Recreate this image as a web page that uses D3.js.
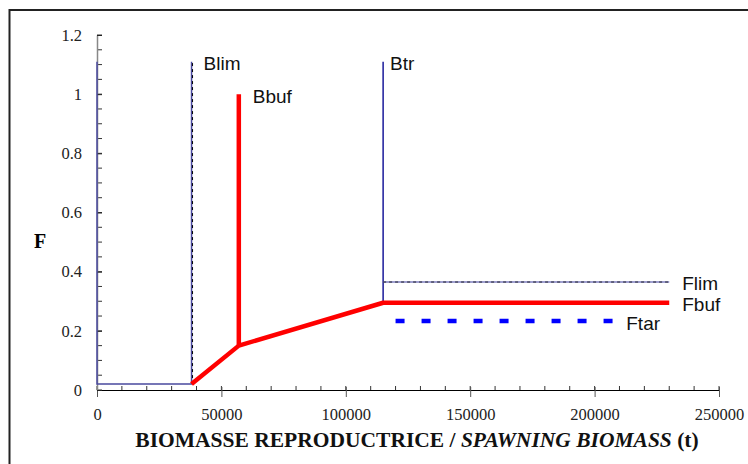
<!DOCTYPE html>
<html>
<head>
<meta charset="utf-8">
<script src="https://cdn.jsdelivr.net/npm/d3@7"></script>
<style>
  body { margin: 0; background: #fff; }
  svg { display: block; }
  .tick text { font-family: "Liberation Serif", "Times New Roman", serif; font-size: 16.5px; fill: #222; }
  .lbl { font-family: "Liberation Sans", Arial, sans-serif; font-size: 19px; fill: #111; }
</style>
</head>
<body>
<div id="chart"></div>
<script>
// reference points (t) and F levels
const xTicks = [0, 50000, 100000, 150000, 200000, 250000];
const yTicks = [0, 0.2, 0.4, 0.6, 0.8, 1, 1.2];

// blue frame: x=0 up to Blim
const limX = [0, 0, 38000, 38000];
const limY = [1.11, 0.02, 0.02, 1.11];
// Btr vertical
const btrX = [115000, 115000];
const btrY = [1.11, 0.295];
// Flim
const flimX = [115000, 230000];
const flimY = [0.365, 0.365];
// red rule
const bufX = [38000, 57000, 115000, 230000];
const bufY = [0.02, 0.15, 0.295, 0.295];
const bbufX = [57000, 57000];
const bbufY = [1.0, 0.15];
// Ftar
const ftarX = [120000, 207500];
const ftarY = [0.233, 0.233];

const labels = [
    {text: "Blim", x: 38000, y: 1.11, dx: 12, dy: 8},
    {text: "Bbuf", x: 57000, y: 1.0, dx: 14, dy: 9},
    {text: "Btr", x: 115000, y: 1.11, dx: 7, dy: 8},
    {text: "Flim", x: 230000, y: 0.365, dx: 13, dy: 8},
    {text: "Fbuf", x: 230000, y: 0.295, dx: 13, dy: 8},
    {text: "Ftar", x: 207500, y: 0.233, dx: 13, dy: 9}
];

const width = 748,
    height = 464;

const svg = d3.select("#chart").append("svg")
    .attr("width", width)
    .attr("height", height);

// outer frame (cut at right/bottom like the picture)
svg.append("rect")
    .attr("x", 9.5).attr("y", 10)
    .attr("width", 760).attr("height", 480)
    .attr("fill", "none")
    .attr("stroke", "#222")
    .attr("stroke-width", 2);

const x = d3.scaleLinear().domain([0, 250000]).range([97, 719]);
const y = d3.scaleLinear().domain([0, 1.2]).range([390, 35]);

// minor ticks
const xMinor = d3.range(0, 250001, 10000);
const yMinor = d3.range(0, 1.2001, 0.05);

svg.append("g").selectAll("line")
    .data(xMinor)
    .enter().append("line")
    .attr("x1", d => x(d)).attr("x2", d => x(d))
    .attr("y1", 386).attr("y2", 390)
    .attr("stroke", "#333");

svg.append("g").selectAll("line")
    .data(yMinor)
    .enter().append("line")
    .attr("x1", 97).attr("x2", 102)
    .attr("y1", d => y(d)).attr("y2", d => y(d))
    .attr("stroke", "#333");

const xAxis = svg.append("g")
    .attr("transform", "translate(0,390)")
    .call(d3.axisBottom(x).tickValues(xTicks).tickFormat(d3.format("d")).tickSizeInner(7).tickSizeOuter(0).tickPadding(11));
xAxis.select(".domain").attr("stroke", "#000");
xAxis.selectAll(".tick line").attr("y1", -3).attr("stroke", "#555");

const yAxis = svg.append("g")
    .attr("transform", "translate(97,0)")
    .call(d3.axisLeft(y).tickValues(yTicks).tickFormat(d => d === 0 ? "0" : d3.format("")(+d.toFixed(1))).tickSizeInner(5).tickSizeOuter(0).tickPadding(10));
yAxis.select(".domain").attr("stroke", "#888").attr("stroke-width", 1.5);
yAxis.selectAll(".tick line").attr("x2", 5).attr("stroke", "#222");

const line = d3.line()
    .x(d => x(d[0]))
    .y(d => y(d[1]));

function pts(xs, ys) {
    return xs.map((v, i) => [v, ys[i]]);
}

// blue frame
svg.append("path")
    .datum(pts(limX, limY))
    .attr("d", line)
    .attr("fill", "none")
    .attr("stroke", "#4a4a9e")
    .attr("stroke-width", 1.5);
// dashes on Blim
svg.append("path")
    .datum(pts(limX.slice(2), limY.slice(2)))
    .attr("d", line)
    .attr("fill", "none")
    .attr("stroke", "#000")
    .attr("stroke-width", 1)
    .attr("stroke-dasharray", "3,3")
    .attr("transform", "translate(1,0)");

// Btr
svg.append("path")
    .datum(pts(btrX, btrY))
    .attr("d", line)
    .attr("fill", "none")
    .attr("stroke", "#1a1a9a")
    .attr("stroke-width", 1.5);

// Flim
svg.append("path")
    .datum(pts(flimX, flimY))
    .attr("d", line)
    .attr("fill", "none")
    .attr("stroke", "#8080c0")
    .attr("stroke-width", 1.5);
svg.append("path")
    .datum(pts(flimX, flimY))
    .attr("d", line)
    .attr("fill", "none")
    .attr("stroke", "#000")
    .attr("stroke-width", 0.8)
    .attr("stroke-dasharray", "3,3");

// red rule
svg.append("path")
    .datum(pts(bbufX, bbufY))
    .attr("d", line)
    .attr("fill", "none")
    .attr("stroke", "#ff0000")
    .attr("stroke-width", 4.5);
svg.append("path")
    .datum(pts(bufX, bufY))
    .attr("d", line)
    .attr("fill", "none")
    .attr("stroke", "#ff0000")
    .attr("stroke-width", 4.5)
    .attr("stroke-linejoin", "round");

// Ftar
svg.append("path")
    .datum(pts(ftarX, ftarY))
    .attr("d", line)
    .attr("fill", "none")
    .attr("stroke", "#0000ff")
    .attr("stroke-width", 4.5)
    .attr("stroke-dasharray", "9,17");

svg.append("g").selectAll("text")
    .data(labels)
    .enter().append("text")
    .attr("class", "lbl")
    .attr("x", d => x(d.x) + d.dx)
    .attr("y", d => y(d.y) + d.dy)
    .text(d => d.text);

// axis titles
svg.append("text")
    .attr("x", 40).attr("y", 248)
    .attr("text-anchor", "middle")
    .style("font-family", "'Liberation Serif', 'Times New Roman', serif")
    .style("font-weight", "bold")
    .style("font-size", "20px")
    .text("F");

const title = svg.append("text")
    .attr("x", 417).attr("y", 447)
    .attr("text-anchor", "middle")
    .style("font-family", "'Liberation Serif', 'Times New Roman', serif")
    .style("font-weight", "bold")
    .style("font-size", "21.5px")
    .attr("fill", "#111");
title.append("tspan").text("BIOMASSE REPRODUCTRICE / ");
title.append("tspan").style("font-style", "italic").text("SPAWNING BIOMASS");
title.append("tspan").text(" (t)");
</script>
</body>
</html>
